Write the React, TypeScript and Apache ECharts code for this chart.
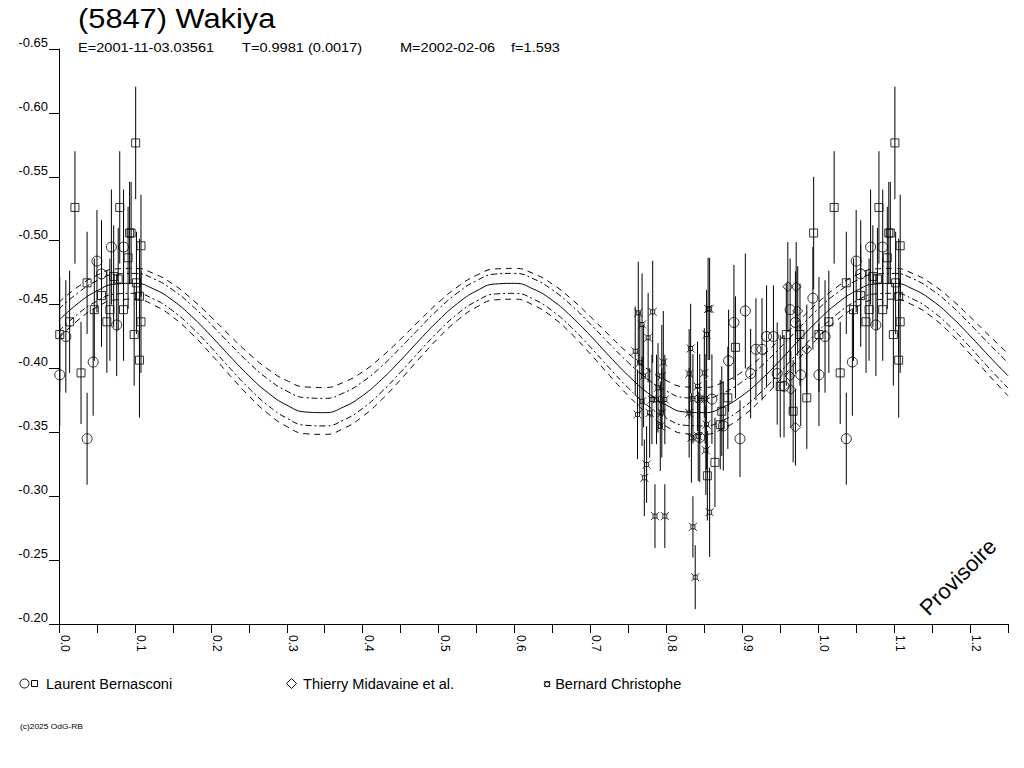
import React, { useEffect, useRef } from "react";
import * as echarts from "echarts";

const FONT = '"Liberation Sans", Arial, sans-serif';

// [phase, magnitude, error]
const lbCircles: number[][] = [
  [0.001, -0.395, 0.04], [0.009, -0.425, 0.044], [0.037, -0.345, 0.036],
  [0.045, -0.405, 0.042], [0.05, -0.484, 0.04], [0.056, -0.474, 0.042],
  [0.069, -0.495, 0.045], [0.076, -0.434, 0.04], [0.085, -0.495, 0.045],
  [0.844, -0.346, 0.035], [0.86, -0.376, 0.035], [0.875, -0.355, 0.035],
  [0.882, -0.406, 0.04], [0.889, -0.436, 0.045], [0.897, -0.345, 0.03],
  [0.904, -0.445, 0.045], [0.911, -0.396, 0.035], [0.918, -0.415, 0.04],
  [0.926, -0.415, 0.04], [0.932, -0.425, 0.04], [0.941, -0.425, 0.04],
  [0.946, -0.396, 0.04], [0.955, -0.386, 0.04], [0.963, -0.446, 0.04],
  [0.97, -0.436, 0.04], [0.977, -0.395, 0.04], [0.993, -0.455, 0.04],
];

const lbSquares: number[][] = [
  [0.001, -0.4265, 0.045], [0.014, -0.4365, 0.04], [0.021, -0.526, 0.044],
  [0.029, -0.3965, 0.04], [0.037, -0.467, 0.04], [0.0465, -0.446, 0.04],
  [0.056, -0.457, 0.04], [0.063, -0.4365, 0.04], [0.067, -0.446, 0.04],
  [0.072, -0.472, 0.04], [0.078, -0.47, 0.04], [0.08, -0.526, 0.044],
  [0.085, -0.446, 0.04], [0.091, -0.4866, 0.04], [0.093, -0.506, 0.04],
  [0.095, -0.506, 0.04], [0.099, -0.4265, 0.04], [0.101, -0.5765, 0.044],
  [0.102, -0.467, 0.04], [0.106, -0.4565, 0.045], [0.106, -0.4065, 0.045],
  [0.108, -0.496, 0.04], [0.108, -0.4365, 0.04],
  [0.854, -0.316, 0.035], [0.864, -0.3265, 0.035], [0.871, -0.356, 0.035],
  [0.873, -0.3665, 0.035], [0.881, -0.377, 0.04], [0.891, -0.4165, 0.04],
  [0.95, -0.386, 0.04], [0.958, -0.4265, 0.04], [0.967, -0.3665, 0.04],
  [0.976, -0.4265, 0.04], [0.985, -0.377, 0.04], [0.994, -0.506, 0.044],
];

const tmDiamonds: number[][] = [
  [0.96, -0.464, 0.035], [0.971, -0.464, 0.035], [0.973, -0.445, 0.035],
  [0.985, -0.415, 0.035], [0.963, -0.394, 0.03], [0.964, -0.3835, 0.03],
  [0.97, -0.354, 0.03],
];

const bcPoints: number[][] = [
  [0.759, -0.4135, 0.035], [0.762, -0.364, 0.035], [0.763, -0.4435, 0.04],
  [0.765, -0.4044, 0.04], [0.768, -0.4344, 0.04], [0.768, -0.3743, 0.035],
  [0.77, -0.394, 0.04], [0.771, -0.3144, 0.03], [0.774, -0.3248, 0.03],
  [0.776, -0.424, 0.035], [0.778, -0.3652, 0.035], [0.781, -0.3757, 0.035],
  [0.782, -0.4443, 0.04], [0.785, -0.2844, 0.025], [0.787, -0.3757, 0.035],
  [0.789, -0.3848, 0.035], [0.792, -0.3548, 0.035], [0.794, -0.394, 0.04],
  [0.794, -0.3652, 0.035], [0.796, -0.4049, 0.04], [0.798, -0.3757, 0.035],
  [0.798, -0.2844, 0.025], [0.83, -0.3958, 0.035], [0.83, -0.3652, 0.035],
  [0.832, -0.4156, 0.035], [0.833, -0.3457, 0.035], [0.835, -0.3762, 0.035],
  [0.835, -0.276, 0.024], [0.838, -0.2366, 0.025], [0.841, -0.386, 0.035],
  [0.842, -0.347, 0.035], [0.844, -0.3762, 0.035], [0.85, -0.3965, 0.035],
  [0.851, -0.3762, 0.035], [0.852, -0.336, 0.035], [0.853, -0.4265, 0.035],
  [0.853, -0.3561, 0.035], [0.855, -0.4466, 0.04], [0.857, -0.4466, 0.04],
  [0.857, -0.2875, 0.035],
];

// fitted curve and its envelopes, read every 0.025 in phase
const fitPhase = [
  0, 0.025, 0.05, 0.075, 0.1, 0.125, 0.15, 0.175, 0.2, 0.225,
  0.25, 0.275, 0.3, 0.325, 0.35, 0.375, 0.4, 0.425, 0.45, 0.475,
  0.5, 0.525, 0.55, 0.575, 0.6, 0.625, 0.65, 0.675, 0.7, 0.725,
  0.75, 0.775, 0.8, 0.825, 0.85, 0.875, 0.9, 0.925, 0.95, 0.975,
  1.0, 1.025, 1.05, 1.075, 1.1, 1.125, 1.15, 1.175, 1.2, 1.225, 1.25,
];
const fitMain = [
  -0.4377, -0.4509, -0.4607, -0.4661, -0.4666, -0.4621, -0.4532, -0.4406, -0.4256, -0.4096,
  -0.3943, -0.3811, -0.3713, -0.3659, -0.3654, -0.3699, -0.3788, -0.3914, -0.4064, -0.4224,
  -0.4377, -0.4509, -0.4607, -0.4661, -0.4666, -0.4621, -0.4532, -0.4406, -0.4256, -0.4096,
  -0.3943, -0.3811, -0.3713, -0.3659, -0.3654, -0.3699, -0.3788, -0.3914, -0.4064, -0.4224,
  -0.4377, -0.4509, -0.4607, -0.4661, -0.4666, -0.4621, -0.4532, -0.4406, -0.4256, -0.4096,
  -0.3943,
];
const fitUpperOuter = [
  -0.4517, -0.4639, -0.4729, -0.4779, -0.4783, -0.4742, -0.466, -0.4543, -0.4405, -0.4258,
  -0.4117, -0.3995, -0.3905, -0.3855, -0.3851, -0.3892, -0.3974, -0.4091, -0.4229, -0.4376,
  -0.4517, -0.4639, -0.4729, -0.4779, -0.4783, -0.4742, -0.466, -0.4543, -0.4405, -0.4258,
  -0.4117, -0.3995, -0.3905, -0.3855, -0.3851, -0.3892, -0.3974, -0.4091, -0.4229, -0.4376,
  -0.4517, -0.4639, -0.4729, -0.4779, -0.4783, -0.4742, -0.466, -0.4543, -0.4405, -0.4258,
  -0.4117,
];
const fitUpperInner = [
  -0.4465, -0.4592, -0.4687, -0.4739, -0.4744, -0.4701, -0.4614, -0.4493, -0.4347, -0.4193,
  -0.4045, -0.3918, -0.3823, -0.3771, -0.3766, -0.3809, -0.3896, -0.4017, -0.4163, -0.4317,
  -0.4465, -0.4592, -0.4687, -0.4739, -0.4744, -0.4701, -0.4614, -0.4493, -0.4347, -0.4193,
  -0.4045, -0.3918, -0.3823, -0.3771, -0.3766, -0.3809, -0.3896, -0.4017, -0.4163, -0.4317,
  -0.4465, -0.4592, -0.4687, -0.4739, -0.4744, -0.4701, -0.4614, -0.4493, -0.4347, -0.4193,
  -0.4045,
];
const fitLowerInner = [
  -0.4292, -0.4427, -0.4527, -0.4583, -0.4588, -0.4542, -0.445, -0.4321, -0.4167, -0.4003,
  -0.3846, -0.3711, -0.3611, -0.3555, -0.355, -0.3596, -0.3688, -0.3817, -0.3971, -0.4135,
  -0.4292, -0.4427, -0.4527, -0.4583, -0.4588, -0.4542, -0.445, -0.4321, -0.4167, -0.4003,
  -0.3846, -0.3711, -0.3611, -0.3555, -0.355, -0.3596, -0.3688, -0.3817, -0.3971, -0.4135,
  -0.4292, -0.4427, -0.4527, -0.4583, -0.4588, -0.4542, -0.445, -0.4321, -0.4167, -0.4003,
  -0.3846,
];
const fitLowerOuter = [
  -0.424, -0.4378, -0.448, -0.4537, -0.4542, -0.4495, -0.4402, -0.427, -0.4113, -0.3946,
  -0.3786, -0.3648, -0.3546, -0.3489, -0.3484, -0.3531, -0.3624, -0.3756, -0.3913, -0.408,
  -0.424, -0.4378, -0.448, -0.4537, -0.4542, -0.4495, -0.4402, -0.427, -0.4113, -0.3946,
  -0.3786, -0.3648, -0.3546, -0.3489, -0.3484, -0.3531, -0.3624, -0.3756, -0.3913, -0.408,
  -0.424, -0.4378, -0.448, -0.4537, -0.4542, -0.4495, -0.4402, -0.427, -0.4113, -0.3946,
  -0.3786,
];

const PHASE_MAX = 1.25;

// header pieces: text, left x
const headerParts: [string, number][] = [
  ["E=2001-11-03.03561", 78],
  ["T=0.9981 (0.0017)", 242],
  ["M=2002-02-06", 400],
  ["f=1.593", 511],
];

const legendLabels: [string, number][] = [
  ["Laurent Bernasconi", 46],
  ["Thierry Midavaine et al.", 303],
  ["¤ Bernard Christophe", 543],
];

// points are shown again one cycle later while they fit in the plot
const wrap = (pts: number[][]) =>
  pts.concat(pts.filter((p) => p[0] + 1 <= PHASE_MAX).map((p) => [p[0] + 1, p[1], p[2]]));

const BC_SYMBOL = "path://M3,3H9V9H3Z M0,0L3,3 M12,0L9,3 M0,12L3,9 M12,12L9,9";

const hollow = { color: "transparent", borderColor: "#000", borderWidth: 1 };

const App: React.FC = () => {
  const chartRef = useRef<HTMLDivElement>(null);

  useEffect(() => {
    if (!chartRef.current) return;
    const chart = echarts.init(chartRef.current, undefined, { renderer: "svg" });

    const allPoints = wrap([...lbCircles, ...lbSquares, ...tmDiamonds, ...bcPoints]);
    const curve = (vals: number[]) => fitPhase.map((p, i) => [p, vals[i]]);
    const curveSeries = (vals: number[], type: any) => ({
      type: "line",
      data: curve(vals),
      smooth: true,
      showSymbol: false,
      silent: true,
      lineStyle: { color: "#000", width: 1, type },
      z: 1,
    });

    const option: any = {
      animation: false,
      backgroundColor: "#fff",
      grid: { left: 59, right: 16, top: 49, bottom: 144, containLabel: false },
      xAxis: {
        type: "value",
        min: 0,
        max: PHASE_MAX,
        interval: 0.05,
        axisLine: { show: true, onZero: false, lineStyle: { color: "#000", width: 1 } },
        axisTick: { show: true, length: 9, lineStyle: { color: "#000" } },
        splitLine: { show: false },
        axisLabel: {
          rotate: -90,
          margin: 11,
          verticalAlign: "bottom",
          color: "#000",
          fontSize: 12,
          fontFamily: FONT,
          formatter: (v: number) => {
            const k = Math.round(v * 100);
            return k % 10 === 0 ? (k / 100).toFixed(1) : "";
          },
        },
      },
      yAxis: {
        type: "value",
        inverse: true,
        min: -0.65,
        max: -0.2,
        interval: 0.05,
        axisLine: { show: true, onZero: false, lineStyle: { color: "#000", width: 1 } },
        axisTick: { show: true, length: 10, lineStyle: { color: "#000" } },
        splitLine: { show: false },
        axisLabel: {
          margin: 11,
          verticalAlign: "bottom",
          color: "#000",
          fontSize: 13,
          fontFamily: FONT,
          formatter: (v: number) => v.toFixed(2),
        },
      },
      series: [
        curveSeries(fitUpperOuter, [6, 5]),
        curveSeries(fitUpperInner, [6, 3, 2, 3]),
        curveSeries(fitMain, "solid"),
        curveSeries(fitLowerInner, [6, 3, 2, 3]),
        curveSeries(fitLowerOuter, [6, 5]),
        {
          type: "custom",
          data: allPoints,
          silent: true,
          z: 2,
          renderItem: (params: any, api: any) => {
            const x = api.value(0);
            const y = api.value(1);
            const e = api.value(2);
            const a = api.coord([x, y - e]);
            const b = api.coord([x, y + e]);
            return {
              type: "line",
              shape: { x1: a[0], y1: a[1], x2: b[0], y2: b[1] },
              style: { stroke: "#000", lineWidth: 1 },
            };
          },
        },
        { type: "scatter", data: wrap(lbCircles), symbol: "circle", symbolSize: 10, itemStyle: hollow, z: 3 },
        { type: "scatter", data: wrap(lbSquares), symbol: "rect", symbolSize: 8, itemStyle: hollow, z: 3 },
        { type: "scatter", data: wrap(tmDiamonds), symbol: "diamond", symbolSize: 10, itemStyle: hollow, z: 3 },
        { type: "scatter", data: wrap(bcPoints), symbol: BC_SYMBOL, symbolSize: 8, itemStyle: hollow, z: 3 },
      ],
      graphic: [
        {
          type: "text", x: 78, y: 4, scaleX: 1.1, scaleY: 1,
          style: { text: "(5847) Wakiya", font: `28px ${FONT}`, fill: "#000", align: "left", verticalAlign: "top" },
        },
        ...headerParts.map(([t, x]) => ({
          type: "text", x, y: 41, scaleX: 1.12, scaleY: 1,
          style: { text: t, font: `13px ${FONT}`, fill: "#000", align: "left", verticalAlign: "top" },
        })),
        { type: "circle", shape: { cx: 24.5, cy: 683.5, r: 4.5 }, style: { fill: "none", stroke: "#000", lineWidth: 1 } },
        { type: "rect", shape: { x: 31.5, y: 680.5, width: 6, height: 6 }, style: { fill: "none", stroke: "#000", lineWidth: 1 } },
        {
          type: "polygon",
          shape: { points: [[291.5, 678.5], [296.5, 683.5], [291.5, 688.5], [286.5, 683.5]] },
          style: { fill: "none", stroke: "#000", lineWidth: 1 },
        },
        ...legendLabels.map(([t, x]) => ({
          type: "text", x, y: 684, scaleX: 1.04, scaleY: 1,
          style: { text: t, font: `14px ${FONT}`, fill: "#000", align: "left", verticalAlign: "middle" },
        })),
        {
          type: "text", x: 20, y: 723, scaleX: 1.2, scaleY: 1,
          style: { text: "(c)2025 OdG-RB", font: `7px ${FONT}`, fill: "#000", align: "left", verticalAlign: "top" },
        },
        {
          type: "text", x: 958, y: 577, rotation: Math.PI / 4,
          style: { text: "Provisoire", font: `22px ${FONT}`, fill: "#000", align: "center", verticalAlign: "middle" },
        },
      ],
    };

    chart.setOption(option);

    return () => {
      chart.dispose();
    };
  }, []);

  return (
    <div
      ref={chartRef}
      style={{ position: "absolute", left: 0, top: 0, width: "1024px", height: "768px" }}
    />
  );
};

export default App;
